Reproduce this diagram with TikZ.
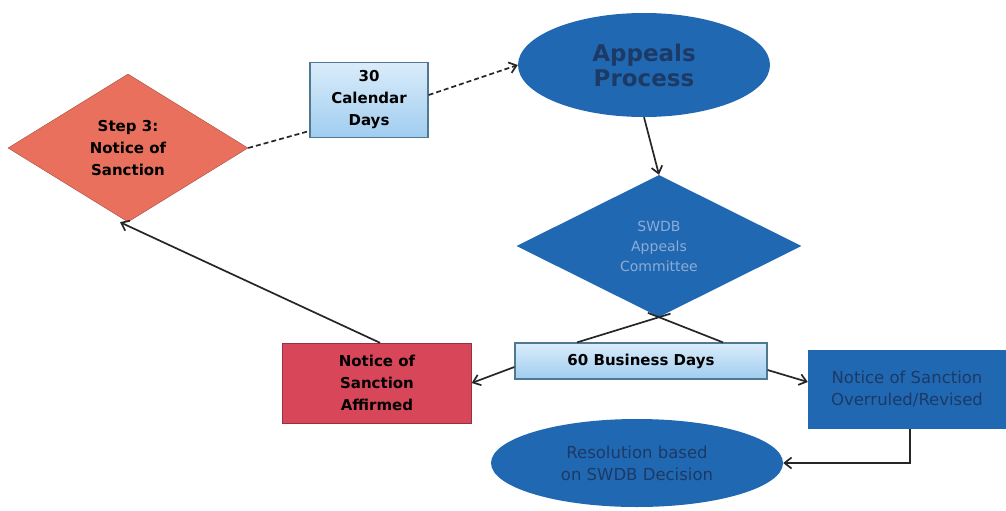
\documentclass[tikz,border=0pt]{standalone}
\usepackage{fontspec}
\setmainfont{DejaVu Sans}
\usepackage{tikz}
\usetikzlibrary{shapes.geometric,arrows.meta}

\definecolor{stepred}{RGB}{233,112,92}
\definecolor{affirmred}{RGB}{216,70,90}
\definecolor{appealblue}{RGB}{33,104,178}
\definecolor{navytext}{RGB}{28,58,102}
\definecolor{palebluetext}{RGB}{140,172,214}
\definecolor{daysedge}{RGB}{80,120,145}
\definecolor{daystop}{RGB}{218,236,250}
\definecolor{daysbottom}{RGB}{160,205,240}

\begin{document}
\begin{tikzpicture}[x=1pt,y=-1pt,
  every node/.style={align=center, inner sep=2pt},
  boxfont/.style={font=\bfseries\fontsize{15}{22}\selectfont},
  plainfont/.style={font=\fontsize{16.5}{22}\selectfont},
  daysbox/.style={rectangle, draw=daysedge, line width=1.2pt, top color=daystop, bottom color=daysbottom, boxfont},
  link/.style={draw=black!85, line width=1.7pt, -{Straight Barb[length=7pt,width=11pt]}},
  dashlink/.style={link, dash pattern=on 5pt off 3pt}]
 \path[use as bounding box] (0,0) rectangle (1006,511);

\node[diamond, fill=stepred, draw=stepred!70!black, minimum width=240pt, minimum height=148pt, boxfont] (step3) at (128,148) {Step 3:\\Notice of\\Sanction};
\node[daysbox, minimum width=118pt, minimum height=75pt] (days30) at (369,100) {30\\Calendar\\Days};
\node[ellipse, fill=appealblue, minimum width=252pt, minimum height=104pt, text=navytext, font=\bfseries\fontsize{23}{25}\selectfont] (appeals) at (644,65) {Appeals\\Process};
\node[diamond, fill=appealblue, minimum width=285pt, minimum height=142pt, text=palebluetext, font=\fontsize{14}{20}\selectfont] (swdb) at (659,246) {SWDB\\Appeals\\Committee};
\node[daysbox, minimum width=252pt, minimum height=36pt] (days60) at (641,361) {60 Business Days};
\node[rectangle, fill=affirmred, draw=affirmred!70!black, minimum width=189pt, minimum height=80pt, boxfont] (affirmed) at (377,383) {Notice of\\Sanction\\Affirmed};
\node[rectangle, fill=appealblue, minimum width=198pt, minimum height=79pt, text=navytext, plainfont] (overruled) at (907,389) {Notice of Sanction\\Overruled/Revised};
\node[ellipse, fill=appealblue, minimum width=292pt, minimum height=88pt, text=navytext, plainfont] (resolution) at (637,463) {Resolution based\\on SWDB Decision};

\draw[dashlink, -] (step3.east) -- ([yshift=-31pt]days30.west);
\draw[dashlink] ([yshift=5pt]days30.east) -- (appeals.west);
\draw[link] (appeals.south) -- (swdb.north);

\draw[line width=1.7pt, draw=black!85, shorten >=-12pt] ([xshift=-64pt]days60.north) -- (swdb.south);
\draw[line width=1.7pt, draw=black!85, shorten >=-12pt] ([xshift=82pt]days60.north) -- (swdb.south);

\draw[link] ([yshift=-6pt]days60.west) -- (affirmed.east);
\draw[link] ([yshift=-9pt]days60.east) -- ([yshift=7pt]overruled.west);
\draw[link] ([xshift=3pt]affirmed.north) -- ([xshift=-8pt]step3.south);
\draw[link] ([xshift=3pt]overruled.south) |- (resolution.east);

\end{tikzpicture}
\end{document}
